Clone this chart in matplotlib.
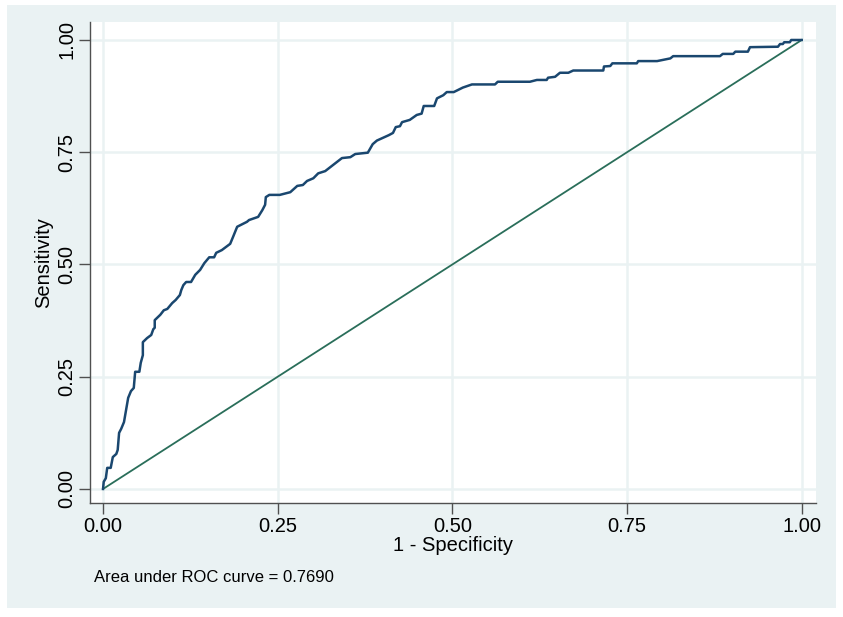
import matplotlib
matplotlib.use("Agg")
from matplotlib import pyplot as plt
from matplotlib.patches import Rectangle

plt.rcParams['font.family'] = ['Liberation Sans', 'DejaVu Sans']

# ROC curve points (1 - specificity, sensitivity)
fpr = [0.000, 0.001, 0.004, 0.006, 0.011, 0.014, 0.019, 0.021, 0.023, 0.026,
       0.030, 0.033, 0.036, 0.040, 0.044, 0.046, 0.052, 0.054, 0.057, 0.057,
       0.063, 0.069, 0.072, 0.074, 0.074, 0.082, 0.087, 0.092, 0.099, 0.104,
       0.110, 0.112, 0.115, 0.119, 0.126, 0.132, 0.139, 0.145, 0.152, 0.159,
       0.162, 0.170, 0.182, 0.186, 0.192, 0.206, 0.209, 0.222, 0.228, 0.232,
       0.233, 0.238, 0.253, 0.268, 0.278, 0.286, 0.292, 0.301, 0.308, 0.318,
       0.342, 0.354, 0.361, 0.379, 0.386, 0.392, 0.409, 0.415, 0.419, 0.425,
       0.428, 0.439, 0.449, 0.456, 0.459, 0.474, 0.478, 0.487, 0.492, 0.502,
       0.515, 0.528, 0.561, 0.565, 0.611, 0.621, 0.635, 0.637, 0.647, 0.654,
       0.666, 0.673, 0.716, 0.717, 0.726, 0.729, 0.764, 0.766, 0.793, 0.812,
       0.816, 0.883, 0.887, 0.902, 0.905, 0.923, 0.926, 0.966, 0.969, 0.973,
       0.975, 0.983, 0.985, 1.000]
tpr = [0.000, 0.016, 0.024, 0.047, 0.047, 0.071, 0.078, 0.087, 0.125, 0.134,
       0.149, 0.176, 0.203, 0.218, 0.225, 0.261, 0.261, 0.281, 0.298, 0.327,
       0.336, 0.343, 0.356, 0.359, 0.376, 0.388, 0.398, 0.401, 0.414, 0.421,
       0.432, 0.443, 0.454, 0.461, 0.461, 0.477, 0.488, 0.503, 0.516, 0.516,
       0.526, 0.532, 0.546, 0.561, 0.584, 0.595, 0.599, 0.606, 0.621, 0.633,
       0.650, 0.655, 0.655, 0.661, 0.675, 0.677, 0.686, 0.692, 0.703, 0.708,
       0.737, 0.739, 0.746, 0.749, 0.768, 0.776, 0.788, 0.793, 0.806, 0.808,
       0.817, 0.822, 0.833, 0.836, 0.853, 0.853, 0.870, 0.877, 0.884, 0.884,
       0.894, 0.901, 0.901, 0.907, 0.907, 0.911, 0.911, 0.916, 0.918, 0.927,
       0.927, 0.932, 0.932, 0.941, 0.942, 0.948, 0.948, 0.953, 0.953, 0.959,
       0.964, 0.964, 0.969, 0.969, 0.974, 0.974, 0.984, 0.985, 0.991, 0.991,
       0.995, 0.995, 1.000, 1.000]
ref = [0, 1]
ticks = [0, 0.25, 0.5, 0.75, 1]
tick_labels = ["0.00", "0.25", "0.50", "0.75", "1.00"]
auc = 0.7690

bg = "#EAF2F3"
navy = "#1A476F"
green = "#2A6E5A"

fig = plt.figure(figsize=(8.43, 6.17), dpi=100, facecolor="white")
fig.patches.append(Rectangle((0.0083, 0.0146), 0.9834, 0.9773, transform=fig.transFigure,
                             facecolor=bg, edgecolor="none", zorder=-10))
ax = fig.add_axes([0.1068, 0.1848, 0.8612, 0.7795])
ax.set_facecolor("white")

ax.plot(fpr, tpr, color=navy, lw=1.8, zorder=3)
ax.plot(ref, ref, color=green, lw=1.3, zorder=2)

ax.set_xlim(-0.0186, 1.0205)
ax.set_ylim(-0.0312, 1.040)
ax.set_xticks(ticks)
ax.set_xticklabels(tick_labels, fontsize=14.5)
ax.set_yticks(ticks)
ax.set_yticklabels(tick_labels, fontsize=14.5, rotation=90, va="center")
ax.grid(True, color=bg, lw=1.8)
ax.set_axisbelow(True)

for s in ["top", "right"]:
    ax.spines[s].set_visible(False)
for s in ["left", "bottom"]:
    ax.spines[s].set_color("#505050")
    ax.spines[s].set_linewidth(1.0)
ax.tick_params(direction="out", length=8, width=1.0, color="#505050", pad=2)

ax.set_xlabel("1 - Specificity", fontsize=14.5, labelpad=0)
ax.set_ylabel("Sensitivity", fontsize=14.5, labelpad=3)

fig.text(94 / 843, 1 - 577 / 617, "Area under ROC curve = %.4f" % auc,
         fontsize=12, va="center", ha="left")

fig.savefig("out.png", dpi=100, facecolor="white")
